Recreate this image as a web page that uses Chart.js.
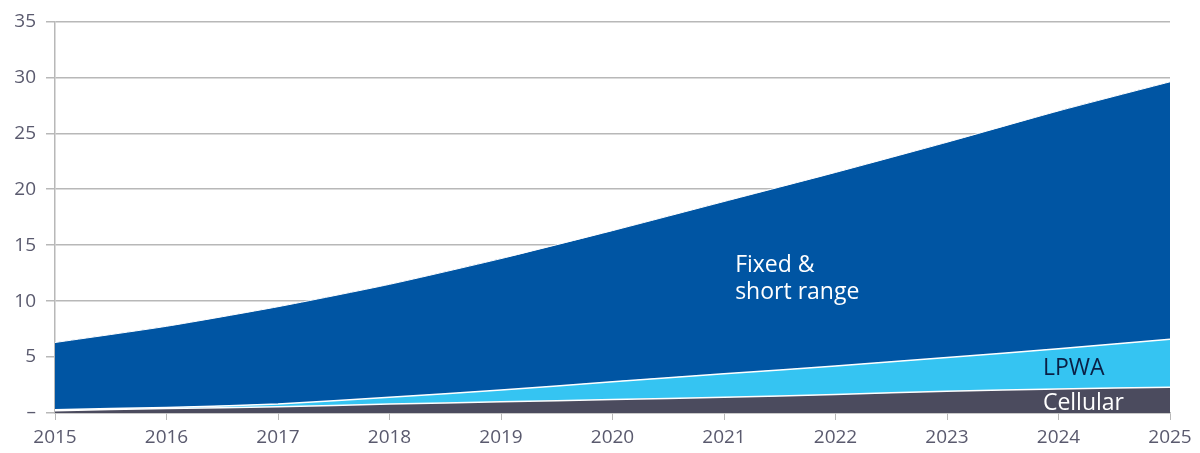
<!DOCTYPE html>
<html>
<head>
<meta charset="utf-8">
<script src="https://cdn.jsdelivr.net/npm/chart.js@4.4.0/dist/chart.umd.min.js"></script>
<style>
  html, body { margin: 0; padding: 0; background: #fff; }
  #wrap { width: 1200px; height: 453px; position: relative; }
</style>
</head>
<body>
<div id="wrap"><canvas id="iotChart"></canvas></div>
<script>
// Data (billions of connected devices)
const years = ['2015', '2016', '2017', '2018', '2019', '2020', '2021', '2022', '2023', '2024', '2025'];
const cellular = [0.2, 0.4, 0.55, 0.8, 1.0, 1.2, 1.4, 1.65, 1.95, 2.15, 2.3];
const lpwa = [0.1, 0.1, 0.25, 0.6, 1.05, 1.6, 2.1, 2.55, 3.0, 3.6, 4.3];
const fixedShortRange = [6.0, 7.25, 8.7, 10.1, 11.75, 13.5, 15.4, 17.3, 19.25, 21.25, 23.0];
const yTicks = [0, 5, 10, 15, 20, 25, 30, 35];

// In-chart labels, placed in data space (x = year index, y = value)
const areaLabels = [
  { text: 'Fixed &', x: 6.1, y: 12.6, color: '#ffffff' },
  { text: 'short range', x: 6.1, y: 10.2, color: '#ffffff' },
  { text: 'LPWA', x: 8.86, y: 3.4, color: '#0a1f44' },
  { text: 'Cellular', x: 8.86, y: 0.3, color: '#ffffff' }
];

const tickColor = '#5a5a6e';
const gridColor = '#b8b8b8';
const fontFamily = '"Open Sans", "Noto Sans", sans-serif';

const areaLabelPlugin = {
  id: 'areaLabels',
  afterDatasetsDraw(chart) {
    const { ctx, scales } = chart;
    ctx.save();
    ctx.font = '23px ' + fontFamily;
    ctx.textAlign = 'left';
    ctx.textBaseline = 'alphabetic';
    areaLabels.forEach(l => {
      ctx.fillStyle = l.color;
      ctx.fillText(l.text, scales.x.getPixelForValue(l.x), scales.y.getPixelForValue(l.y));
    });
    ctx.restore();
  }
};

new Chart(document.getElementById('iotChart'), {
  type: 'line',
  data: {
    labels: years,
    datasets: [
      {
        label: 'Cellular',
        data: cellular,
        backgroundColor: '#4b4b5e',
        borderColor: '#ffffff',
        borderWidth: 1.5,
        fill: 'origin',
        tension: 0.2,
        pointRadius: 0
      },
      {
        label: 'LPWA',
        data: lpwa,
        backgroundColor: '#35c4f2',
        borderColor: '#ffffff',
        borderWidth: 1.5,
        fill: '-1',
        tension: 0.2,
        pointRadius: 0
      },
      {
        label: 'Fixed & short range',
        data: fixedShortRange,
        backgroundColor: '#0055a3',
        borderColor: '#ffffff',
        borderWidth: 1,
        fill: '-1',
        tension: 0.2,
        pointRadius: 0
      }
    ]
  },
  options: {
    responsive: true,
    maintainAspectRatio: false,
    animation: false,
    layout: { padding: { top: 10, right: 30, left: 0, bottom: 0 } },
    plugins: {
      legend: { display: false },
      tooltip: { enabled: false }
    },
    scales: {
      x: {
        offset: false,
        grid: {
          drawOnChartArea: false,
          drawTicks: true,
          tickLength: 7,
          color: gridColor
        },
        border: { display: true, color: gridColor, width: 1.5 },
        ticks: {
          color: tickColor,
          font: { family: fontFamily, size: 19 },
          padding: 6,
          maxRotation: 0,
          autoSkip: false
        },
        afterFit(scale) { scale.height = 40; }
      },
      y: {
        stacked: true,
        min: 0,
        max: 35,
        afterBuildTicks(scale) { scale.ticks = yTicks.map(v => ({ value: v })); },
        grid: {
          color: gridColor,
          lineWidth: 1.5,
          tickLength: 9
        },
        border: { display: true, color: gridColor, width: 1.5 },
        ticks: {
          color: tickColor,
          font: { family: fontFamily, size: 19 },
          padding: 10,
          callback: v => v === 0 ? '–' : String(v)
        },
        afterFit(scale) { scale.width = 55; }
      }
    }
  },
  plugins: [areaLabelPlugin]
});
</script>
</body>
</html>
